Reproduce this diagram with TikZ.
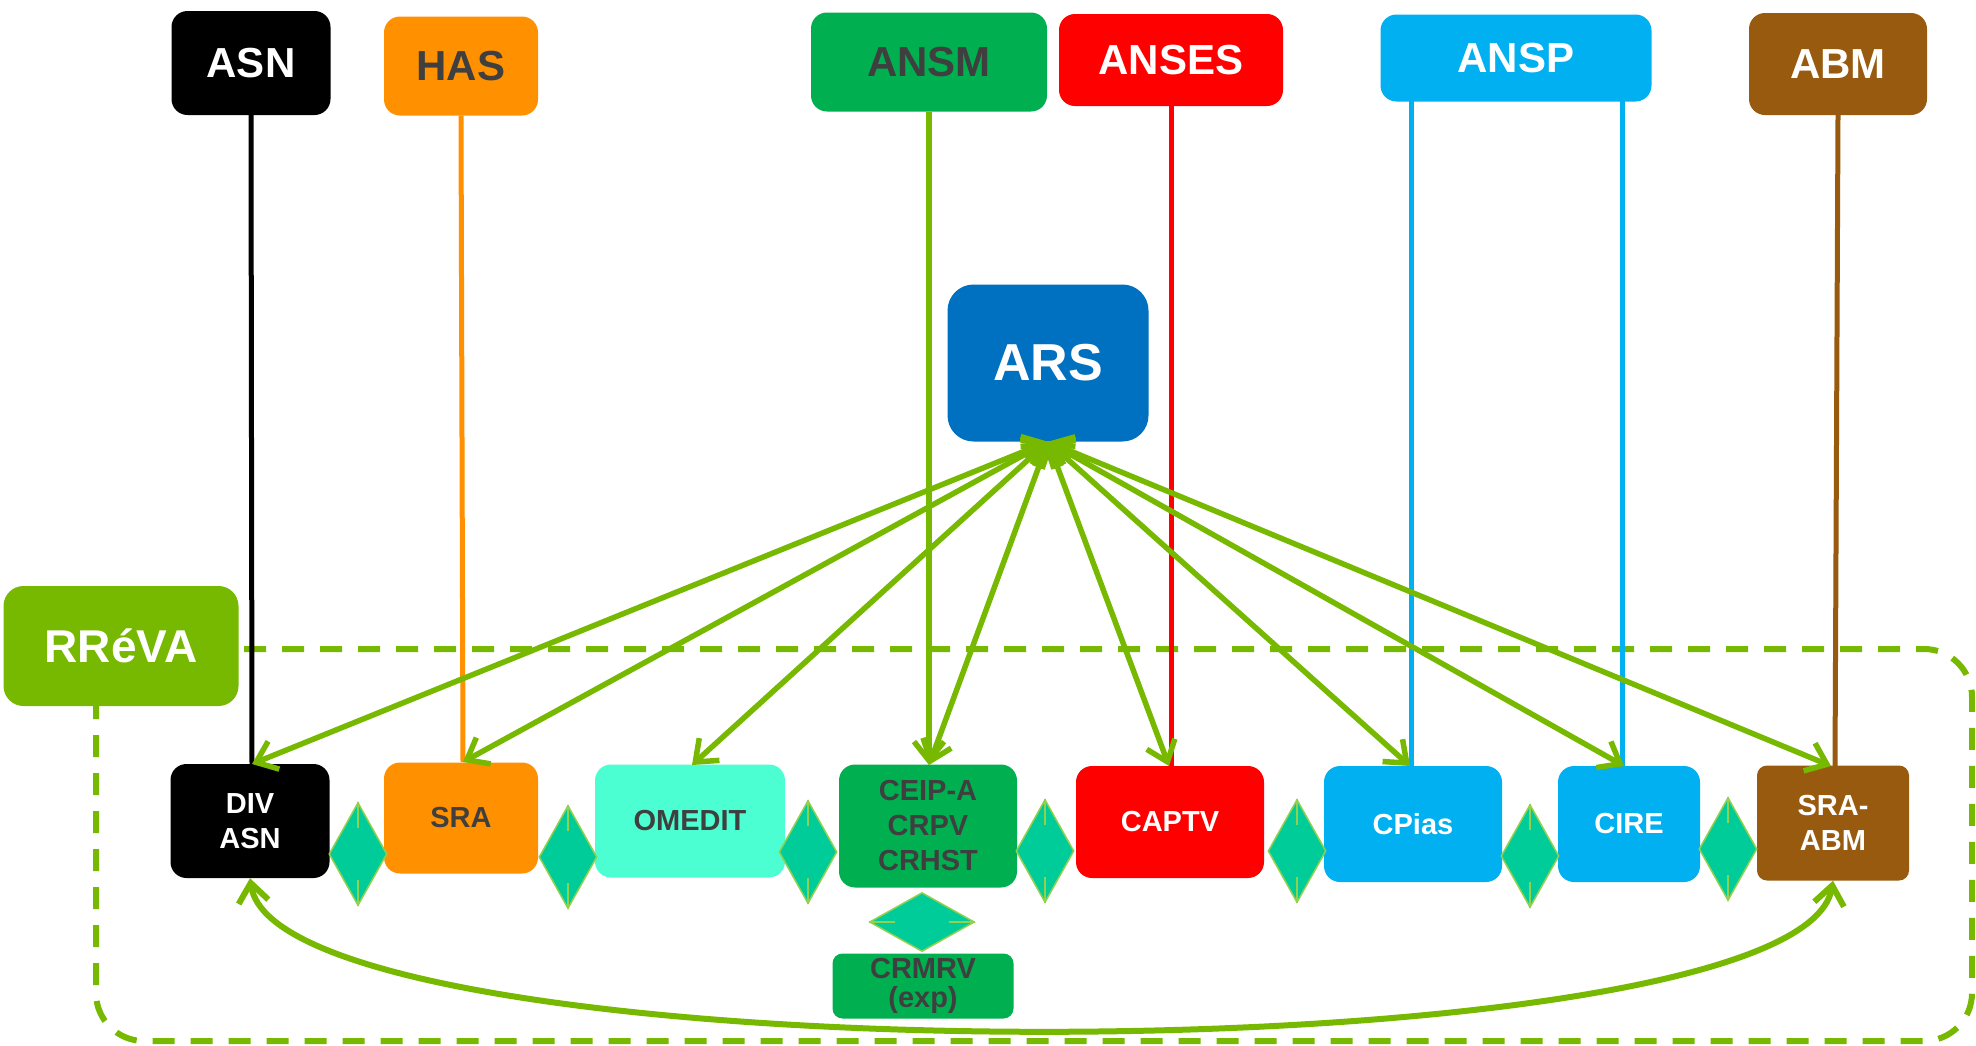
\documentclass[tikz,border=0pt]{standalone}
\usepackage{fontspec}
\setmainfont{Liberation Sans}
\usetikzlibrary{shapes.geometric,arrows.meta}
\definecolor{cblack}{HTML}{000000}
\definecolor{corange}{HTML}{FF9100}
\definecolor{cansm}{HTML}{00B050}
\definecolor{cred}{HTML}{FF0000}
\definecolor{cblue}{HTML}{00B0F0}
\definecolor{cbrown}{HTML}{985A0E}
\definecolor{cars}{HTML}{0070C0}
\definecolor{cgreen}{HTML}{77B800}
\definecolor{cmint}{HTML}{4BFFD2}
\definecolor{cdia}{HTML}{00CC99}
\definecolor{cdiaedge}{HTML}{92D050}
\definecolor{cdark}{HTML}{3F3F3F}
\definecolor{cwhite}{HTML}{FFFFFF}
\begin{document}
\begin{tikzpicture}[x=1pt,y=-1pt,
  box/.style={rounded corners=16pt, inner sep=0pt, align=center, font=\bfseries},
  head/.style={box, font=\bfseries\fontsize{42}{50}\selectfont},
  low/.style={box, font=\bfseries\fontsize{29}{35}\selectfont},
  dia/.style={diamond, fill=cdia, draw=cdiaedge, line width=1.5pt, inner sep=0pt, minimum width=58pt, minimum height=103pt},
  diah/.style={diamond, fill=cdia, draw=cdiaedge, line width=1.5pt, inner sep=0pt, minimum width=105pt, minimum height=59pt},
  tick/.style={draw=cdiaedge, line width=1.5pt},
  link/.style={line width=5pt},
  garrow/.style={draw=cgreen, line width=5.5pt, {Straight Barb[length=19pt,width=30pt]}-{Straight Barb[length=19pt,width=30pt]}},
  frame/.style={draw=cgreen, line width=6pt, dash pattern=on 22pt off 16pt, rounded corners=48pt}
]
\useasboundingbox (0,0) rectangle (1976,1045);

% dashed frame
\draw[frame] (96,649) rectangle (1972,1041);

% top agencies
\node[head, fill=cblack, text=cwhite, minimum width=159pt, minimum height=104pt] (asn) at (251,63) {ASN};
\node[head, fill=corange, text=cdark, minimum width=154pt, minimum height=99pt] (has) at (461,66) {HAS};
\node[head, fill=cansm, text=cdark, minimum width=236pt, minimum height=99pt] (ansm) at (929,62) {ANSM};
\node[head, fill=cred, text=cwhite, minimum width=224pt, minimum height=92pt] (anses) at (1171,60) {ANSES};
\node[head, fill=cblue, text=cwhite, minimum width=271pt, minimum height=87pt] (ansp) at (1516,58) {ANSP};
\node[head, fill=cbrown, text=cwhite, minimum width=178pt, minimum height=102pt] (abm) at (1838,64) {ABM};

% ARS
\node[box, rounded corners=26pt, fill=cars, text=cwhite, font=\bfseries\fontsize{52}{60}\selectfont, minimum width=201pt, minimum height=157pt] (ars) at (1048,363) {ARS};

% RReVA
\node[box, rounded corners=20pt, fill=cgreen, text=cwhite, font=\bfseries\fontsize{46}{54}\selectfont, minimum width=235pt, minimum height=120pt] (rreva) at (121,646) {RRéVA};

% bottom nodes
\node[low, fill=cblack, text=cwhite, minimum width=159pt, minimum height=114pt] (div) at (250,821) {DIV\\ASN};
\node[low, fill=corange, text=cdark, minimum width=154pt, minimum height=111pt] (sra) at (461,818) {SRA};
\node[low, fill=cmint, text=cdark, minimum width=190pt, minimum height=113pt] (omedit) at (690,821) {OMEDIT};
\node[low, fill=cansm, text=cdark, minimum width=178pt, minimum height=123pt] (ceip) at (928,826) {CEIP-A\\CRPV\\CRHST};
\node[low, fill=cred, text=cwhite, minimum width=188pt, minimum height=112pt] (captv) at (1170,822) {CAPTV};
\node[low, fill=cblue, text=cwhite, minimum width=178pt, minimum height=116pt] (cpias) at (1413,824) {CPias};
\node[low, fill=cblue, text=cwhite, minimum width=142pt, minimum height=116pt] (cire) at (1629,824) {CIRE};
\node[low, fill=cbrown, text=cwhite, rounded corners=10pt, minimum width=152pt, minimum height=115pt] (sraabm) at (1833,823) {SRA-\\ABM};
\node[low, fill=cansm, text=cdark, rounded corners=10pt, minimum width=181pt, minimum height=65pt] (crmrv) at (923,986) {CRMRV\\[-6pt](exp)};

% coordinates on node tops
\coordinate (divt) at (252,764);
\coordinate (srat) at (463,762);
\coordinate (omt) at (692,765);
\coordinate (ceipt) at (929,765);
\coordinate (captvt) at (1169,766);
\coordinate (cpiast) at (1410,766);
\coordinate (ciret) at (1624,766);
\coordinate (sraabmt) at (1831,766);

% vertical agency links
\draw[link, draw=cblack] (asn.south) -- (divt);
\draw[link, draw=corange] (has.south) -- (srat);
\draw[link, draw=cred] (anses.south) -- (anses.south |- captv.north);
\coordinate (anspa) at (1411,101);
\coordinate (anspb) at (1622,101);
\draw[link, draw=cblue] (anspa) -- (anspa |- cpias.north);
\draw[link, draw=cblue] (anspb) -- (anspb |- cire.north);
\draw[link, draw=cbrown] (abm.south) -- (1835,766);
\draw[link, line width=5.5pt, draw=cgreen, -{Straight Barb[length=19pt,width=30pt]}] (ansm.south) -- (ceipt);

% ARS arrows
\foreach \t in {divt,srat,omt,ceipt,captvt,cpiast,ciret,sraabmt}
  \draw[garrow] (ars.south) -- (\t);

% curved arrow
\draw[garrow, line width=6pt] (div.south) .. controls (280,1080) and (1800,1080) .. (sraabm.south);

% diamonds
\node[dia] (d1) at (358,854) {};
\node[dia] (d2) at (568,857) {};
\node[dia] (d3) at (808,852) {};
\node[dia] (d4) at (1045,851) {};
\node[dia] (d5) at (1297,851) {};
\node[dia] (d6) at (1530,856) {};
\node[dia] (d7) at (1728,849) {};
\node[diah] (dh) at (922,922) {};
\foreach \d in {d1,d2,d3,d4,d5,d6,d7} {
  \draw[tick] (\d.north) -- ++(0,26);
  \draw[tick] (\d.south) -- ++(0,-26);
}
\draw[tick] (dh.west) -- ++(26,0);
\draw[tick] (dh.east) -- ++(-26,0);
\end{tikzpicture}
\end{document}
